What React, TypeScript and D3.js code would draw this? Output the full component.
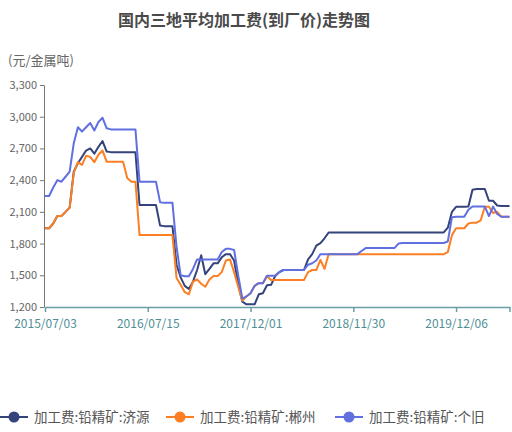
import { useEffect, useRef } from 'react';
import * as d3 from 'd3';

// weekly points on a category axis; labels only shown every 25 points
const tickLabels = ['2015/07/03', '2016/07/15', '2017/12/01', '2018/11/30', '2019/12/06'];
const tickStep = 25;

const jiyuan = [
  1945, 1945, 1990, 2060, 2060, 2100, 2140, 2480, 2560, 2620,
  2680, 2700, 2650, 2715, 2770, 2670, 2665, 2665, 2665, 2665,
  2665, 2665, 2665, 2165, 2165, 2165, 2165, 2165, 1970, 1965,
  1965, 1965, 1600, 1480, 1400, 1370, 1440, 1550, 1690, 1510,
  1560, 1613, 1613, 1670, 1700, 1700, 1640, 1420, 1250, 1225,
  1225, 1225, 1320, 1330, 1405, 1410, 1493, 1530, 1550, 1550,
  1550, 1550, 1550, 1550, 1650, 1700, 1780, 1805, 1850, 1905,
  1905, 1905, 1905, 1905, 1905, 1905, 1905, 1905, 1905, 1905,
  1905, 1905, 1905, 1905, 1905, 1905, 1905, 1905, 1905, 1905,
  1905, 1905, 1905, 1905, 1905, 1905, 1905, 1905, 1950, 2100,
  2148, 2148, 2148, 2150, 2310, 2316, 2316, 2316, 2205, 2205,
  2160, 2155, 2155, 2155,
];

const chenzhou = [
  1945, 1945, 1990, 2060, 2060, 2100, 2140, 2470, 2570, 2545,
  2630, 2620, 2570, 2640, 2680, 2575, 2575, 2575, 2575, 2575,
  2420, 2385, 2385, 1880, 1880, 1880, 1880, 1880, 1880, 1880,
  1880, 1880, 1475, 1410, 1340, 1320, 1440, 1460, 1420, 1392,
  1460, 1493, 1493, 1530, 1640, 1650, 1530, 1392, 1260, 1300,
  1330, 1400, 1425, 1425, 1490, 1455, 1455, 1455, 1455, 1455,
  1455, 1455, 1455, 1455, 1530, 1550, 1550, 1645, 1560, 1700,
  1700, 1700, 1700, 1700, 1700, 1700, 1700, 1700, 1700, 1700,
  1700, 1700, 1700, 1700, 1700, 1700, 1700, 1700, 1700, 1700,
  1700, 1700, 1700, 1700, 1700, 1700, 1700, 1700, 1720, 1880,
  1945, 1945, 1945, 1990, 1998, 1998, 2020, 2148, 2148, 2090,
  2100, 2054, 2054, 2054,
];

const gejiu = [
  2250, 2250, 2330, 2400, 2385, 2432, 2480, 2750, 2900, 2860,
  2900, 2940, 2870, 2950, 2990, 2890, 2880, 2880, 2880, 2880,
  2880, 2880, 2880, 2385, 2385, 2385, 2385, 2385, 2190, 2185,
  2185, 2185, 1770, 1500, 1490, 1490, 1560, 1650, 1650, 1650,
  1650, 1650, 1650, 1720, 1750, 1750, 1740, 1500, 1280, 1300,
  1330, 1400, 1425, 1425, 1495, 1495, 1495, 1530, 1550, 1550,
  1550, 1550, 1550, 1550, 1600, 1614, 1640, 1700, 1700, 1700,
  1700, 1700, 1700, 1700, 1700, 1700, 1700, 1730, 1757, 1757,
  1757, 1757, 1757, 1757, 1757, 1757, 1800, 1805, 1805, 1805,
  1805, 1805, 1805, 1805, 1805, 1805, 1805, 1805, 1820, 2050,
  2054, 2054, 2054, 2120, 2150, 2150, 2150, 2150, 2060, 2150,
  2080, 2054, 2054, 2054,
];

const seriesNames = ['加工费:铅精矿:济源', '加工费:铅精矿:郴州', '加工费:铅精矿:个旧'];
const seriesColors = ['#34437a', '#fd7f23', '#6070e0'];
const yTicks = [1200, 1500, 1800, 2100, 2400, 2700, 3000, 3300];

const FONT = '"Noto Sans CJK SC", "Noto Sans", sans-serif';

export default function App() {
  const svgRef = useRef<SVGSVGElement>(null);

  useEffect(() => {
    const svg = d3.select(svgRef.current);
    if (!svg.node()) return;
    svg.selectAll('*').remove();

    const width = 512;
    const height = 432;
    const n = jiyuan.length;

    const x = d3.scaleLinear().domain([0, n - 1]).range([45, 509.5]);
    const y = d3.scaleLinear().domain([1200, 3300]).range([307, 85]);

    svg.attr('viewBox', `0 0 ${width} ${height}`);

    svg
      .append('text')
      .attr('x', 244)
      .attr('y', 26)
      .attr('text-anchor', 'middle')
      .attr('font-size', 16)
      .attr('font-weight', 'bold')
      .attr('fill', '#4a4a4a')
      .text('国内三地平均加工费(到厂价)走势图');

    svg
      .append('text')
      .attr('x', 8)
      .attr('y', 65)
      .attr('font-size', 13)
      .attr('fill', '#666')
      .text('(元/金属吨)');

    // y axis
    const yAxis = svg
      .append('g')
      .attr('transform', 'translate(44,0)')
      .call(d3.axisLeft(y).tickValues(yTicks).tickFormat(d3.format(',')).tickSizeInner(4).tickSizeOuter(0).tickPadding(3));
    yAxis.select('.domain').attr('stroke', '#777');
    yAxis.selectAll('line').attr('stroke', '#777');
    yAxis.selectAll('text').attr('fill', '#666').attr('font-size', 11).attr('font-family', FONT);

    // x axis (category ticks every 25 points)
    const xTickIdx = tickLabels.map((_, i) => i * tickStep);
    const xAxis = svg
      .append('g')
      .attr('transform', 'translate(0,307)')
      .call(
        d3
          .axisBottom(x)
          .tickValues([...xTickIdx, n - 1])
          .tickFormat((d) => tickLabels[(d as number) / tickStep] ?? '')
          .tickSizeInner(5)
          .tickSizeOuter(0)
          .tickPadding(7),
      );
    xAxis.select('.domain').attr('stroke', '#6a9ea4').attr('stroke-width', 1.5);
    xAxis.selectAll('line').attr('stroke', '#6a9ea4').attr('stroke-width', 1.5);
    xAxis.selectAll('text').attr('fill', '#4f8e94').attr('font-size', 12).attr('font-family', FONT);

    const line = d3
      .line<number>()
      .x((_, i) => x(i))
      .y((d) => y(d));

    [jiyuan, chenzhou, gejiu].forEach((data, k) => {
      svg
        .append('path')
        .datum(data)
        .attr('d', line)
        .attr('fill', 'none')
        .attr('stroke', seriesColors[k])
        .attr('stroke-width', 2)
        .attr('stroke-linejoin', 'round');
    });

    // legend
    const legendX = [0, 166, 335];
    const lg = svg.append('g').attr('transform', 'translate(0,417)');
    seriesNames.forEach((name, k) => {
      const item = lg.append('g').attr('transform', `translate(${legendX[k]},0)`);
      item
        .append('line')
        .attr('x1', 0)
        .attr('x2', 28)
        .attr('stroke', seriesColors[k])
        .attr('stroke-width', 2);
      item.append('circle').attr('cx', 14).attr('r', 5.5).attr('fill', seriesColors[k]);
      item
        .append('text')
        .attr('x', 34)
        .attr('y', 5)
        .attr('font-size', 13.5)
        .attr('fill', '#555')
        .text(name);
    });
  }, []);

  return (
    <svg
      ref={svgRef}
      width={512}
      height={432}
      style={{ position: 'absolute', left: 0, top: 0, fontFamily: FONT }}
    />
  );
}
